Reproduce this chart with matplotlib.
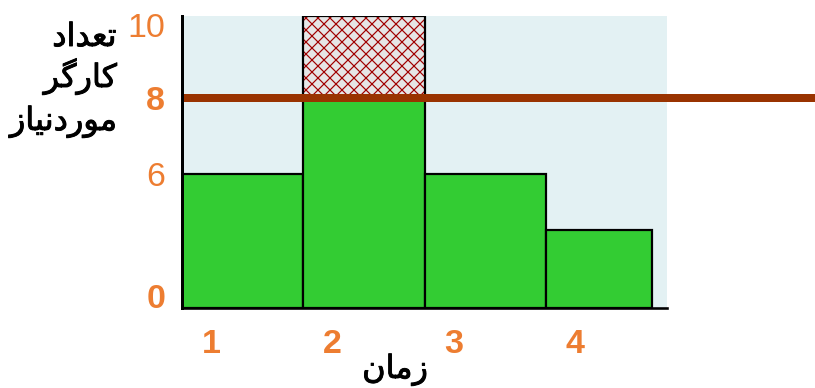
import numpy as np
import matplotlib
matplotlib.use("Agg")
import matplotlib.pyplot as plt
import matplotlib.transforms as mtransforms
import matplotlib.patheffects as pe

# ---------------------------------------------------------------------------
# data
# ---------------------------------------------------------------------------
periods = [1, 2, 3, 4]
workers = [6, 8, 6, 3.5]          # کارگر موردنیاز در هر دوره
bar_widths = [1, 1, 1, 0.88]
excess_period = 2                  # دوره‌ای که بیش از ظرفیت است
excess_range = (8, 10)
capacity = 8                       # خط ظرفیت
y_ticks = [0, 6, 8, 10]
y_tick_bold = [True, False, True, False]

# متن فارسی (حروف از پیش شکل‌گرفته، ترتیب نمایشی)
ylabel_lines = [
    "\uFEA9\uFE8D\uFEAA\uFECC\uFE97",                  # تعداد
    "\uFEAE\uFB94\uFEAD\uFE8E\uFB90",                  # کارگر
    "\uFEAF\uFE8E\uFBFF\uFEE7\uFEA9\uFEAD\uFEEE\uFEE3",  # موردنیاز
]
xlabel = "\uFEE5\uFE8E\uFEE3\uFEAF"                    # زمان

ORANGE = "#ED7D31"
GREEN = "#33CC33"

# محور y شماتیک است (غیرخطی) -> نگاشت تکه‌ای
Y_VALS = [0, 6, 8, 10]
Y_POS = [0, 134, 210, 292]


def fwd(v):
    return np.interp(v, Y_VALS, Y_POS)


def inv(p):
    return np.interp(p, Y_POS, Y_VALS)


# dpi=72 -> 1pt = 1px
W, H, DPI = 815, 388, 72
plt.rcParams["hatch.linewidth"] = 1.2
fig = plt.figure(figsize=(W / DPI, H / DPI), dpi=DPI)
ax = fig.add_axes([182 / W, 1 - 308 / H, 485 / W, 292 / H])
ax.set_facecolor("#E3F1F3")
ax.set_yscale("function", functions=(fwd, inv))

lefts = np.concatenate([[0], np.cumsum(bar_widths)[:-1]])
ax.bar(lefts, workers, width=bar_widths, align="edge", color=GREEN,
       edgecolor="black", linewidth=2.2, zorder=2)

i = periods.index(excess_period)
ax.bar(lefts[i], excess_range[1] - excess_range[0], bottom=excess_range[0],
       width=bar_widths[i], align="edge", color="#E6E6E6", edgecolor="#A00000",
       hatch="xx", linewidth=0, zorder=2)
ax.bar(lefts[i], excess_range[1] - excess_range[0], bottom=excess_range[0],
       width=bar_widths[i], align="edge", fill=False, edgecolor="black",
       linewidth=2.2, zorder=3)

# خط ظرفیت تا لبه شکل ادامه دارد
ax.plot([0, 5.3], [capacity, capacity], color="#993300", linewidth=8,
        solid_capstyle="butt", clip_on=False, zorder=4)

ax.set_xlim(0, 4)
ax.set_ylim(0, 10)
for s in ["top", "right"]:
    ax.spines[s].set_visible(False)
ax.spines["left"].set_linewidth(3)
ax.spines["bottom"].set_linewidth(2.6)
ax.spines["left"].set_zorder(5)

ax.set_xticks(lefts + 0.24)
ax.set_xticklabels([str(p) for p in periods], fontsize=34, fontweight="bold",
                   color=ORANGE, family="Liberation Sans")
ax.tick_params(axis="x", length=0, pad=21)

ax.set_yticks(y_ticks)
ax.set_yticklabels([str(t) for t in y_ticks], fontsize=34, color=ORANGE,
                   family="Liberation Sans")
ax.tick_params(axis="y", length=0, pad=17)
ax.yaxis.set_minor_locator(matplotlib.ticker.NullLocator())
shifts = {0: 12, 10: -9}
for t, lab, b in zip(y_ticks, ax.get_yticklabels(), y_tick_bold):
    if b:
        lab.set_fontweight("bold")
    if t in shifts:
        lab.set_transform(lab.get_transform() + mtransforms.ScaledTranslation(
            0, shifts[t] / DPI, fig.dpi_scale_trans))

thick = [pe.withStroke(linewidth=0.9, foreground="black")]
for txt, yb in zip(ylabel_lines, [46, 87, 130]):
    fig.text(117 / W, 1 - yb / H, txt, ha="right", va="baseline",
             fontsize=32, family="DejaVu Sans", color="black",
             path_effects=thick)
fig.text(395 / W, 1 - 378 / H, xlabel, ha="center", va="baseline",
         fontsize=32, family="DejaVu Sans", color="black", path_effects=thick)

fig.savefig("out.png", dpi=DPI)
